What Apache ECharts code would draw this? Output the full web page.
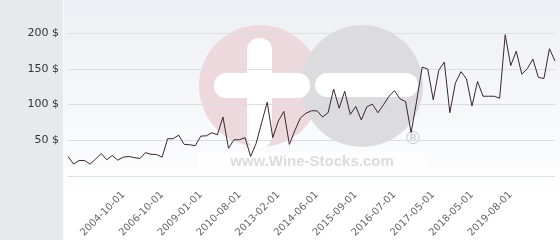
<!DOCTYPE html>
<html><head><meta charset="utf-8">
<script src="https://cdn.jsdelivr.net/npm/echarts@6/dist/echarts.min.js"></script>
<style>html,body{margin:0;padding:0;background:#fff}#c{width:560px;height:240px}</style>
</head><body><div id="c"></div>
<script>
const categories = [
  '2001-01-01','2001-05-01','2001-09-01','2002-01-01','2002-05-01','2002-09-01','2003-01-01','2003-05-01','2003-09-01','2004-03-01','2004-10-01',
  '2005-01-01','2005-04-01','2005-07-01','2005-10-01','2006-02-01','2006-06-01','2006-10-01',
  '2007-02-01','2007-06-01','2007-10-01','2008-02-01','2008-05-01','2008-09-01','2009-01-01',
  '2009-04-01','2009-07-01','2009-10-01','2010-01-01','2010-03-01','2010-06-01','2010-08-01',
  '2011-01-01','2011-05-01','2011-09-01','2012-01-01','2012-05-01','2012-09-01','2013-02-01',
  '2013-05-01','2013-08-01','2013-10-01','2013-12-01','2014-02-01','2014-04-01','2014-06-01',
  '2014-08-01','2014-10-01','2014-12-01','2015-02-01','2015-04-01','2015-06-01','2015-09-01',
  '2015-10-01','2015-11-01','2015-12-01','2016-02-01','2016-03-01','2016-05-01','2016-07-01',
  '2016-08-01','2016-09-01','2016-11-01','2016-12-01','2017-01-01','2017-03-01','2017-05-01',
  '2017-07-01','2017-08-01','2017-10-01','2017-11-01','2018-01-01','2018-03-01','2018-05-01',
  '2018-07-01','2018-09-01','2018-11-01','2019-01-01','2019-03-01','2019-05-01','2019-08-01',
  '2019-10-01','2019-12-01','2020-02-01','2020-04-01','2020-06-01','2020-08-01','2020-10-01','2020-12-01'
];
const prices = [
  27.6,17,22,22,17,24,31.7,23,29,22.5,26.6,
  27.6,26,24.8,33,30.7,30.3,26.6,
  52.4,52.4,57.4,44.5,44,42.7,56,
  56.5,60.7,58,82.7,39,51,51,
  53.8,27.6,46,75,103.4,53.8,77,
  90.5,44.5,64,81.4,88,91.4,91.4,
  82.7,88.7,121.8,95,118.6,86.3,97.4,
  78.6,97,100.7,88.7,99.7,111.7,119.4,
  108,104.3,61,105,152.5,149.8,106.6,
  148,159.4,88.7,130,146,136,98,
  132.4,111.7,111.7,111.7,109,197.6,154.5,
  174.6,142.5,150.3,163.6,138,136.5,178,160.8
];
const tickLabels = ['2004-10-01','2006-10-01','2009-01-01','2010-08-01','2013-02-01','2014-06-01','2015-09-01','2016-07-01','2017-05-01','2018-05-01','2019-08-01'];
const yMin = 0, yMax = 200, yStep = 50;

const chart = echarts.init(document.getElementById('c'), null, {renderer:'canvas'});
chart.setOption({
  animation:false,
  grid:{left:68,right:5,top:33,bottom:62},
  graphic:[
    {type:'rect',z:-10,shape:{x:63,y:0,width:497,height:240},style:{fill:new echarts.graphic.LinearGradient(0,0,0,1,[{offset:0,color:'#edeff4'},{offset:0.85,color:'#ffffff'},{offset:1,color:'#ffffff'}])}},
    {type:'rect',z:-10,shape:{x:0,y:0,width:63,height:240},style:{fill:'#e7eaed'}},
    {type:'rect',z:-10,shape:{x:63,y:0,width:1,height:240},style:{fill:'#f8f9fa'}},
    {type:'rect',z:-9,shape:{x:197,y:152,width:228,height:20},style:{fill:'rgba(255,255,255,0.7)'}},
    {type:'circle',z:-8,shape:{cx:260,cy:86,r:61},style:{fill:'#edd8de'}},
    {type:'circle',z:-8,shape:{cx:362,cy:86,r:61},style:{fill:'#dcdcde'}},
    {type:'rect',z:-7,shape:{x:247,y:38,width:25,height:110,r:12},style:{fill:'#ffffff'}},
    {type:'rect',z:-7,shape:{x:214,y:73,width:96,height:25,r:12},style:{fill:'#ffffff'}},
    {type:'rect',z:-7,shape:{x:315,y:73,width:103,height:24,r:12},style:{fill:'#ffffff'}},
    {type:'text',z:-7,style:{x:312,y:162,text:'www.Wine-Stocks.com',fill:'#dcdcdc',font:'bold 15px "Liberation Sans"',textAlign:'center',textVerticalAlign:'middle'}},
    {type:'text',z:-7,style:{x:413,y:139,text:'®',fill:'#cccccc',font:'18px "DejaVu Sans"',textAlign:'center',textVerticalAlign:'middle'}}
  ],
  xAxis:{
    type:'category',boundaryGap:false,data:categories,
    axisLine:{show:false},axisTick:{show:false},splitLine:{show:false},
    axisLabel:{
      interval:(i,v)=>tickLabels.indexOf(v)>=0,
      rotate:45,margin:17,color:'#666',fontSize:10,fontFamily:'DejaVu Sans'
    }
  },
  yAxis:{
    type:'value',min:yMin,max:yMax,interval:yStep,
    axisLine:{show:false},axisTick:{show:false},
    splitLine:{lineStyle:{color:'#dcdde1',width:1}},
    axisLabel:{formatter:v=>v===0?'':v+' $',color:'#333',fontSize:11,fontFamily:'DejaVu Sans',margin:9}
  },
  series:[{type:'line',data:prices,showSymbol:false,symbol:'none',lineStyle:{color:'#3b2630',width:1}}]
});
</script></body></html>
